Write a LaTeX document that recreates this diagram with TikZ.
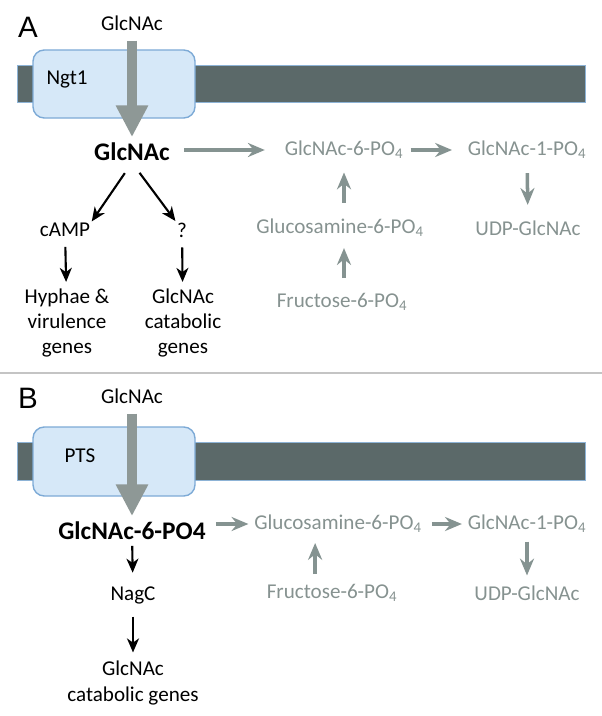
\documentclass[tikz,border=0pt]{standalone}
\usepackage{fontspec}
\setmainfont{Carlito}
\newfontfamily\panelfont{Liberation Sans}
\usetikzlibrary{arrows.meta,calc}
\definecolor{txtgray}{HTML}{869290}
\definecolor{arrgray}{HTML}{859391}
\definecolor{bigarr}{HTML}{8E9896}
\definecolor{membr}{HTML}{5B6969}
\definecolor{membline}{HTML}{8DB3D6}
\definecolor{boxfill}{HTML}{D6E8F8}
\definecolor{boxline}{HTML}{7DAAD6}
\definecolor{sepline}{HTML}{C4C4C4}
\begin{document}
\begin{tikzpicture}[x=0.025cm,y=-0.025cm,font=\fontsize{15}{18}\selectfont]
\tikzstyle{t}=[inner sep=1pt,align=center]
\tikzstyle{g}=[t,text=txtgray]
\tikzstyle{bold}=[t,font=\fontsize{18}{21}\selectfont\bfseries]
\tikzstyle{lbl}=[inner sep=0pt,font=\panelfont\fontsize{21}{24}\selectfont]
\tikzstyle{garr}=[arrgray,line width=2.5pt,-{Stealth[length=12pt,width=10pt,inset=4pt]}]
\tikzstyle{barr}=[black,line width=1.5pt,-{Stealth[length=10pt,width=8.5pt,inset=3pt]}]
\tikzstyle{big}=[bigarr,line width=7.1pt,-{Triangle[length=22.5pt,width=21.5pt]}]
\tikzstyle{memb}=[fill=membr,draw=membline,line width=0.6pt]
\tikzstyle{tbox}=[draw=boxline,fill=boxfill,line width=1pt,rounded corners=8pt]
\useasboundingbox (0,0) rectangle (602,716);
% A: Ngt1 uptake
\node[lbl] (labA) at (28,27) {A};
\draw[memb] (17,65) rectangle (585,102);
\draw[tbox] (33,50) rectangle (195,118);
\node[t] (ngt) at (67,80) {Ngt1};
\node[t] (inA) at (132,23) {GlcNAc};
\node[bold] (glcA) at (132,152) {GlcNAc};
\draw[big,shorten <=6pt,shorten >=3pt] (inA) -- (glcA);
\node[g] (g6pA) at (344,150) {GlcNAc-6-PO\textsubscript{4}};
\node[g] (g1pA) at (527,150) {GlcNAc-1-PO\textsubscript{4}};
\node[g] (gln6pA) at (340,228) {Glucosamine-6-PO\textsubscript{4}};
\node[g] (f6pA) at (342,302) {Fructose-6-PO\textsubscript{4}};
\node[g] (udpA) at (528,228) {UDP-GlcNAc};
\draw[garr,shorten <=9pt,shorten >=13pt] (glcA.east |- g6pA.west) -- (g6pA.west);
\draw[garr,shorten <=4pt,shorten >=10pt] (g6pA) -- (g1pA);
\draw[garr,shorten <=9pt,shorten >=10pt] (g1pA) -- (udpA);
\draw[garr,shorten <=10.3pt,shorten >=8.5pt] (gln6pA.north -| g6pA) -- (g6pA);
\draw[garr,shorten <=9.6pt,shorten >=6.8pt] (f6pA.north -| g6pA) -- (gln6pA.south -| g6pA);
\node[t] (camp) at (65,230) {cAMP};
\node[t] (unk) at (182,230) {?};
\node[t] (hyph) at (67,323) {Hyphae \&\\virulence\\genes};
\node[t] (catA) at (183,323) {GlcNAc\\catabolic\\genes};
\draw[barr,shorten <=9pt] (glcA.south) -- (camp.north east);
\draw[barr,shorten <=9pt] (glcA.south) -- (unk.north west);
\draw[barr,shorten <=6pt,shorten >=3.5pt] (camp) -- (hyph);
\draw[barr,shorten <=6pt,shorten >=3.5pt] (unk) -- (catA);
% separator
\draw[sepline,line width=2pt] (0,373) -- (602,373);
% B: PTS uptake
\node[lbl] (labB) at (28,398) {B};
\draw[memb] (17,442) rectangle (585,480);
\draw[tbox] (33,427) rectangle (195,496);
\node[t] (pts) at (80,456) {PTS};
\node[t] (inB) at (132,396) {GlcNAc};
\node[bold] (g6pB) at (132,531) {GlcNAc-6-PO4};
\draw[big,shorten <=6pt,shorten >=3pt] (inB) -- (g6pB);
\node[g] (gln6pB) at (338,524) {Glucosamine-6-PO\textsubscript{4}};
\node[g] (g1pB) at (527,524) {GlcNAc-1-PO\textsubscript{4}};
\node[g] (f6pB) at (332,593) {Fructose-6-PO\textsubscript{4}};
\node[g] (udpB) at (527,593) {UDP-GlcNAc};
\draw[garr,shorten <=6pt,shorten >=3pt] (g6pB.east |- gln6pB.west) -- (gln6pB.west);
\draw[garr,shorten <=6pt,shorten >=3pt] (gln6pB) -- (g1pB);
\draw[garr,shorten <=5pt,shorten >=6pt] (g1pB) -- (udpB);
\draw[garr,shorten <=6pt,shorten >=6pt] ([xshift=-12pt]f6pB.north) -- ([xshift=-12pt]f6pB.north |- gln6pB.south);
\node[t] (nagc) at (133,595) {NagC};
\node[t] (catB) at (133,683) {GlcNAc\\catabolic genes};
\draw[barr,shorten <=3pt,shorten >=8.5pt] (g6pB) -- (nagc);
\draw[barr,shorten <=8pt,shorten >=5pt] (nagc) -- (catB);
\end{tikzpicture}
\end{document}
